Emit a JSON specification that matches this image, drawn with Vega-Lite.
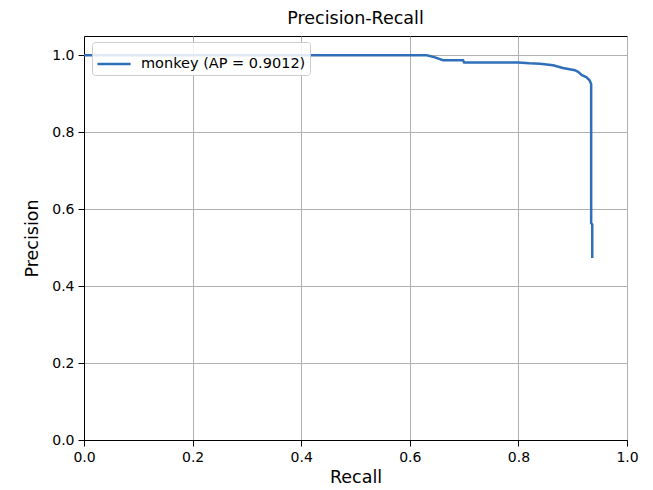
{
  "$schema": "https://vega.github.io/schema/vega-lite/v6.json",
  "autosize": {"type": "none"},
  "padding": {"left": 84, "top": 36, "right": 26, "bottom": 50},
  "width": 543,
  "height": 404,
  "background": "white",
  "title": {"text": "Precision-Recall", "fontSize": 17.5, "fontWeight": "normal", "font": "DejaVu Sans", "color": "#000", "offset": 9},
  "data": {"values": [
    {"i": 0, "recall": 0.0, "precision": 1.0, "series": "monkey (AP = 0.9012)"},
    {"i": 1, "recall": 0.631, "precision": 1.0, "series": "monkey (AP = 0.9012)"},
    {"i": 2, "recall": 0.645, "precision": 0.995, "series": "monkey (AP = 0.9012)"},
    {"i": 3, "recall": 0.661, "precision": 0.987, "series": "monkey (AP = 0.9012)"},
    {"i": 4, "recall": 0.698, "precision": 0.987, "series": "monkey (AP = 0.9012)"},
    {"i": 5, "recall": 0.700, "precision": 0.981, "series": "monkey (AP = 0.9012)"},
    {"i": 6, "recall": 0.800, "precision": 0.981, "series": "monkey (AP = 0.9012)"},
    {"i": 7, "recall": 0.820, "precision": 0.979, "series": "monkey (AP = 0.9012)"},
    {"i": 8, "recall": 0.840, "precision": 0.978, "series": "monkey (AP = 0.9012)"},
    {"i": 9, "recall": 0.864, "precision": 0.974, "series": "monkey (AP = 0.9012)"},
    {"i": 10, "recall": 0.882, "precision": 0.967, "series": "monkey (AP = 0.9012)"},
    {"i": 11, "recall": 0.904, "precision": 0.961, "series": "monkey (AP = 0.9012)"},
    {"i": 12, "recall": 0.910, "precision": 0.957, "series": "monkey (AP = 0.9012)"},
    {"i": 13, "recall": 0.917, "precision": 0.948, "series": "monkey (AP = 0.9012)"},
    {"i": 14, "recall": 0.925, "precision": 0.943, "series": "monkey (AP = 0.9012)"},
    {"i": 15, "recall": 0.931, "precision": 0.935, "series": "monkey (AP = 0.9012)"},
    {"i": 16, "recall": 0.934, "precision": 0.925, "series": "monkey (AP = 0.9012)"},
    {"i": 17, "recall": 0.934, "precision": 0.564, "series": "monkey (AP = 0.9012)"},
    {"i": 18, "recall": 0.936, "precision": 0.560, "series": "monkey (AP = 0.9012)"},
    {"i": 19, "recall": 0.936, "precision": 0.473, "series": "monkey (AP = 0.9012)"}
  ]},
  "mark": {"type": "line", "strokeWidth": 2.5, "interpolate": "linear"},
  "encoding": {
    "x": {"field": "recall", "type": "quantitative", "title": "Recall",
          "scale": {"domain": [0, 1], "nice": false, "zero": false},
          "axis": {"values": [0, 0.2, 0.4, 0.6, 0.8, 1.0], "format": ".1f", "titlePadding": 4, "labelFlush": false, "labelOverlap": false}},
    "y": {"field": "precision", "type": "quantitative", "title": "Precision",
          "scale": {"domain": [0, 1.05], "nice": false, "zero": false},
          "axis": {"values": [0, 0.2, 0.4, 0.6, 0.8, 1.0], "format": ".1f", "titlePadding": 10, "labelFlush": false, "labelOverlap": false}},
    "order": {"field": "i", "type": "quantitative"},
    "color": {"field": "series", "type": "nominal", "scale": {"range": ["#2f6fba"]},
              "legend": {"title": null, "orient": "none", "legendX": 8, "legendY": 6,
                         "strokeColor": "#cccccc", "fillColor": "rgba(255,255,255,0.85)", "cornerRadius": 3,
                         "padding": 4, "labelFontSize": 14.5, "labelFont": "DejaVu Sans", "labelColor": "#000", "labelLimit": 400,
                         "symbolType": "stroke", "symbolSize": 1100, "symbolStrokeWidth": 2.5, "labelOffset": 9}}
  },
  "config": {
    "view": {"stroke": "#000", "strokeWidth": 1},
    "axis": {
      "domainColor": "#000", "domainWidth": 1,
      "tickColor": "#000", "tickSize": 6, "tickWidth": 1,
      "labelFont": "DejaVu Sans", "labelFontSize": 14, "labelColor": "#000", "labelPadding": 4,
      "titleFont": "DejaVu Sans", "titleFontSize": 17.5, "titleFontWeight": "normal", "titleColor": "#000",
      "grid": true, "gridColor": "#b0b0b0", "gridWidth": 1, "gridOpacity": 1
    }
  }
}
